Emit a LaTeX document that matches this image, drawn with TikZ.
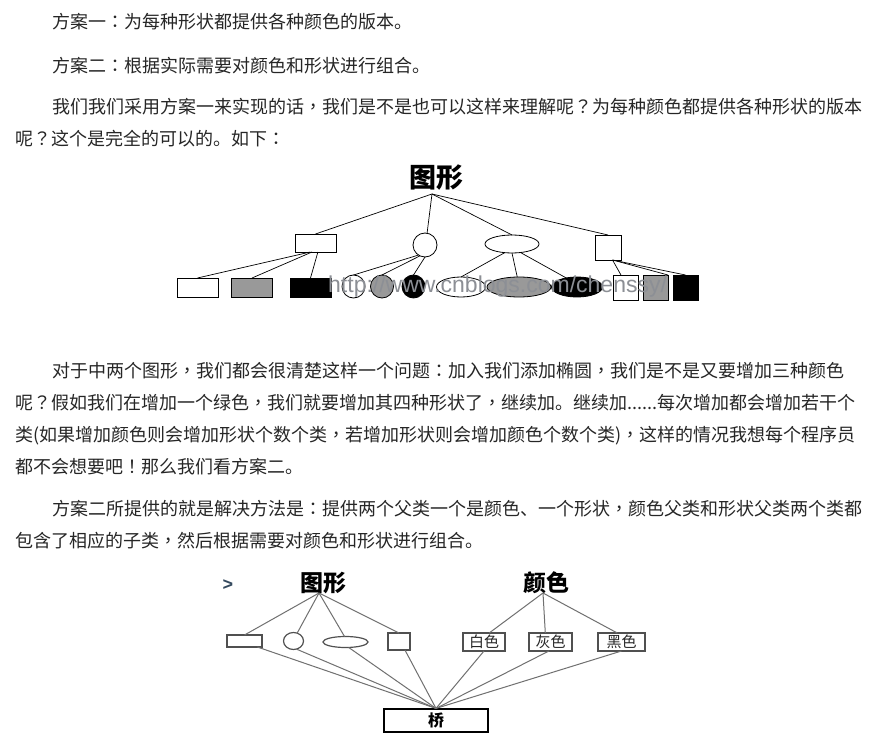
\documentclass[tikz,border=0pt]{standalone}
\usepackage{fontspec}
\setmainfont{Noto Sans CJK SC}
\newfontfamily\tcpunct{Noto Sans CJK TC}
\newfontfamily\wmfont{Liberation Sans}
\newcommand\pnc[1]{{\tcpunct #1}}
\usetikzlibrary{shapes.geometric,calc}
\definecolor{txt}{HTML}{262626}
\definecolor{shgray}{HTML}{999999}
\definecolor{lntwo}{HTML}{707070}
\definecolor{bxtwo}{HTML}{505050}
\definecolor{wm}{HTML}{8C8F95}
\definecolor{chevc}{HTML}{34495E}
\tikzset{
  para/.style={anchor=base west, inner sep=0pt, text=txt, font=\fontsize{18}{20}\selectfont},
  shp/.style={draw=black, line width=0.8pt, inner sep=0pt, outer sep=0pt},
  shptwo/.style={draw=bxtwo, line width=1.2pt, inner sep=0pt, outer sep=0pt},
  lnone/.style={draw=black, line width=0.7pt},
  lntwoline/.style={draw=lntwo, line width=1pt},
  ttlone/.style={inner sep=0pt, font=\fontsize{27}{27}\bfseries\selectfont},
  ttltwo/.style={inner sep=0pt, font=\fontsize{23}{23}\bfseries\selectfont},
  colbox/.style={shptwo, minimum height=18, text=txt, font=\fontsize{15}{15}\selectfont}
}
\begin{document}
\begin{tikzpicture}[x=1pt,y=-1pt]
\useasboundingbox[fill=white] (0,0) rectangle (876,738);

% ---------- paragraphs ----------
\node[para] (p1) at (52,29) {方案一\pnc{：}为每种形状都提供各种颜色的版本。};
\node[para] (p2) at (52,73) {方案二\pnc{：}根据实际需要对颜色和形状进行组合。};
\node[para] (p3a) at (52,114) {我们我们采用方案一来实现的话\pnc{，}我们是不是也可以这样来理解呢\pnc{？}为每种颜色都提供各种形状的版本};
\node[para] (p3b) at (15,146) {呢\pnc{？}这个是完全的可以的。如下\pnc{：}};
\node[para] (p4a) at (52,377) {对于中两个图形\pnc{，}我们都会很清楚这样一个问题\pnc{：}加入我们添加椭圆\pnc{，}我们是不是又要增加三种颜色};
\node[para] (p4b) at (15,409) {呢\pnc{？}假如我们在增加一个绿色\pnc{，}我们就要增加其四种形状了\pnc{，}继续加。继续加......每次增加都会增加若干个};
\node[para] (p4c) at (15,441) {类(如果增加颜色则会增加形状个数个类\pnc{，}若增加形状则会增加颜色个数个类)\pnc{，}这样的情况我想每个程序员};
\node[para] (p4d) at (15,473) {都不会想要吧\pnc{！}那么我们看方案二。};
\node[para] (p5a) at (52,515) {方案二所提供的就是解决方法是\pnc{：}提供两个父类一个是颜色、一个形状\pnc{，}颜色父类和形状父类两个类都};
\node[para] (p5b) at (15,547) {包含了相应的子类\pnc{，}然后根据需要对颜色和形状进行组合。};

% ---------- diagram 1 ----------
\node[ttlone] (t1) at (436,178) {图形};
\coordinate (a1) at (432,194);
\node[shp, minimum width=41, minimum height=18] (r1) at (315.5,243) {};
\node[shp, circle, minimum size=24] (c1) at (425,245) {};
\node[shp, ellipse, minimum width=54, minimum height=18] (e1) at (512,244) {};
\node[shp, minimum width=26, minimum height=25] (s1) at (608,247.5) {};

\node[shp, fill=white, minimum width=41, minimum height=19] (rw) at (197.5,287.5) {};
\node[shp, fill=shgray, minimum width=41, minimum height=19] (rg) at (252,287.5) {};
\node[shp, fill=black, minimum width=41, minimum height=19] (rb) at (310.5,287.5) {};
\node[shp, circle, fill=white, minimum size=23] (cw) at (353.5,286.5) {};
\node[shp, circle, fill=shgray, minimum size=23] (cg) at (382,286.5) {};
\node[shp, circle, fill=black, minimum size=23] (cb) at (413.5,286.5) {};
\node[shp, ellipse, fill=white, minimum width=49, minimum height=20] (ew) at (461,287) {};
\node[shp, ellipse, fill=shgray, minimum width=64, minimum height=20] (eg) at (519,287) {};
\node[shp, ellipse, fill=black, minimum width=51, minimum height=20] (eb) at (577,287) {};
\node[shp, fill=white, minimum size=25] (sw) at (625.5,287.5) {};
\node[shp, fill=shgray, minimum size=25] (sg) at (655.5,287.5) {};
\node[shp, fill=black, minimum size=25] (sb) at (685.5,287.5) {};

\draw[lnone] (a1) -- (r1.north);
\draw[lnone] (a1) -- (c1.80);
\draw[lnone] (a1) -- (e1.north);
\draw[lnone] (a1) -- (s1.north);
\draw[lnone] (r1.240) -- (rw.north);
\draw[lnone] (r1.249) -- (rg.north);
\draw[lnone] (r1.285) -- (rb.north);
\draw[lnone] (c1.237) -- (cw.north);
\draw[lnone] (c1.245) -- (cg.north);
\draw[lnone] (c1.270) -- (cb.north);
\draw[lnone] (e1.230) -- (ew.north);
\draw[lnone] (e1.south) -- (eg.100);
\draw[lnone] (e1.315) -- (eb.140);
\draw[lnone] (s1.290) -- (sw.110);
\draw[lnone] (s1.290) -- (sg.north east);
\draw[lnone] (s1.290) -- (sb.north);

\node[anchor=base west, inner sep=0pt, text=wm, font=\wmfont\fontsize{23}{23}\selectfont] (wmk) at (328,293) {http://www.cnblogs.com/chenssy/};

% ---------- diagram 2 ----------
\node[inner sep=0pt, text=chevc, font=\wmfont\fontsize{18}{18}\bfseries\selectfont] (chev) at (228,585) {>};
\node[ttltwo] (t2) at (323,583) {图形};
\node[ttltwo] (t3) at (546,583) {颜色};
\coordinate (a2) at (319,593);
\coordinate (a3) at (543,593);

\node[shptwo, minimum width=35, minimum height=12] (r2) at (244.5,641) {};
\node[shptwo, ellipse, minimum width=20, minimum height=17] (c2) at (293.5,641) {};
\node[shptwo, ellipse, minimum width=45, minimum height=11] (e2) at (345.5,642) {};
\node[shptwo, minimum width=22, minimum height=17] (s2) at (399,641.5) {};
\node[colbox, minimum width=42] (wb) at (484,642) {白色};
\node[colbox, minimum width=43] (gb) at (550.5,642) {灰色};
\node[colbox, minimum width=47] (bb) at (621.5,642) {黑色};
\node[draw=black, line width=1.2pt, inner sep=0pt, minimum width=104, minimum height=23, font=\fontsize{16}{16}\bfseries\selectfont] (q) at (436,720.5) {桥};

\draw[lntwoline] (a2) -- (r2.north);
\draw[lntwoline] (a2) -- (c2.65);
\draw[lntwoline] (a2) -- (e2.100);
\draw[lntwoline] (a2) -- (s2.north);
\draw[lntwoline] (a3) -- (wb.60);
\draw[lntwoline] (a3) -- (gb.120);
\draw[lntwoline] (a3) -- (bb.115);

\draw[lntwoline] (r2.335) -- (q.north);
\draw[lntwoline] (c2.290) -- (q.north);
\draw[lntwoline] (e2.300) -- (q.north);
\draw[lntwoline] (s2.305) -- (q.north);
\draw[lntwoline] (wb.south) -- (q.north);
\draw[lntwoline] (gb.260) -- (q.north);
\draw[lntwoline] (bb.south) -- (q.north);
\end{tikzpicture}
\end{document}
